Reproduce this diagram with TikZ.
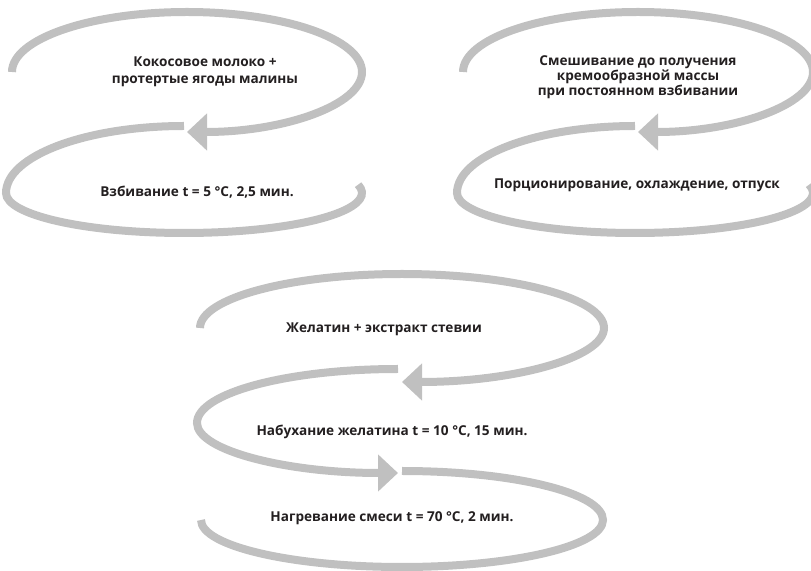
\documentclass[tikz,border=0pt]{standalone}
\usepackage{fontspec}
\setmainfont{Open Sans}
\usetikzlibrary{arrows.meta}
\definecolor{loopgray}{RGB}{192,192,192}
\definecolor{txt}{RGB}{35,31,32}
\tikzset{
  loopline/.style={draw=loopgray, line width=6pt},
  bigtip/.style={-{Triangle[length=15pt,width=27pt]}},
  lbl/.style={text=txt, align=center, font=\fontsize{10.2}{12.4}\selectfont\bfseries, inner sep=0pt},
  lbltight/.style={lbl, font=\fontsize{10.2}{11.4}\selectfont\bfseries}
}
\begin{document}
\begin{tikzpicture}[x=0.75pt,y=0.75pt]
\useasboundingbox (0,0) rectangle (811,571);
% ---------- group 1 ----------
\coordinate (g1a) at (12,499);
\coordinate (g1b) at (184,445);
\draw[loopline,bigtip] (g1a) arc[start angle=180,end angle=-90,x radius=131.25pt,y radius=45pt];
\draw[loopline] (g1b) arc[start angle=90,end angle=180,x radius=133.5pt,y radius=50.25pt]
  arc[start angle=180,end angle=372,x radius=133.5pt,y radius=30pt];
\node[lbl] (t1) at (205,499) {Кокосовое молоко +\\протертые ягоды малины};
\node[lbl] (t2) at (197,379) {Взбивание t = 5 °C, 2,5 мин.};
% ---------- group 2 ----------
\coordinate (g2a) at (463,499);
\coordinate (g2b) at (635,445);
\draw[loopline,bigtip] (g2a) arc[start angle=180,end angle=-90,x radius=131.25pt,y radius=45pt];
\draw[loopline] (g2b) arc[start angle=90,end angle=180,x radius=133.5pt,y radius=50.25pt]
  arc[start angle=180,end angle=372,x radius=133.5pt,y radius=30pt];
\node[lbltight] (t3) at (638,494) {Смешивание до получения\\кремообразной массы\\при постоянном взбивании};
\node[lbl] (t4) at (637,386) {Порционирование, охлаждение, отпуск};
% ---------- group 3 ----------
\coordinate (g3a) at (200,243);
\coordinate (g3b) at (398,202);
\coordinate (g3c) at (402,100);
\draw[loopline,bigtip] (g3a) arc[start angle=180,end angle=-90,x radius=151.5pt,y radius=40.5pt];
\draw[loopline,bigtip] (g3b) arc[start angle=90,end angle=180,x radius=150.75pt,y radius=40.5pt]
  arc[start angle=180,end angle=270,x radius=150.75pt,y radius=37.5pt];
\draw[loopline] (g3c) arc[start angle=90,end angle=0,x radius=150.75pt,y radius=36.75pt]
  arc[start angle=0,end angle=-180,x radius=150.75pt,y radius=35.25pt];
\node[lbl] (t5) at (384,242) {Желатин + экстракт стевии};
\node[lbl] (t6) at (392,139) {Набухание желатина t = 10 °C, 15 мин.};
\node[lbl] (t7) at (392,53) {Нагревание смеси t = 70 °C, 2 мин.};
\end{tikzpicture}
\end{document}
